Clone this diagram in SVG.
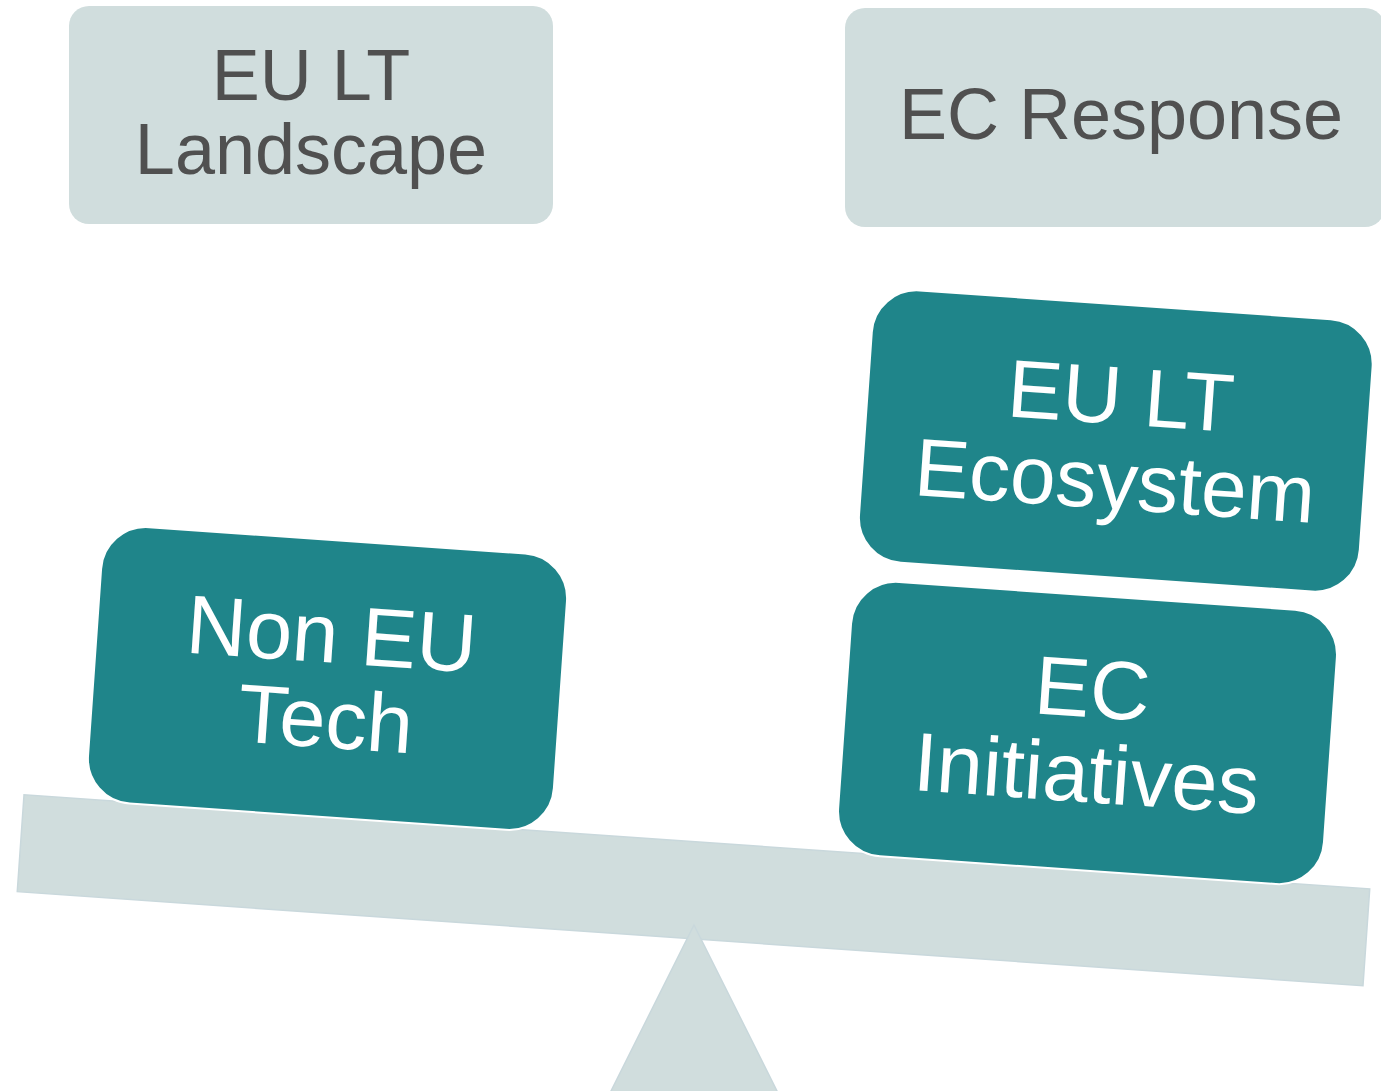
<svg xmlns="http://www.w3.org/2000/svg" width="1381" height="1091" viewBox="0 0 1381 1091">
<style>
.grey{fill:#d0dddd;}
.gtext{font-family:"Liberation Sans",Arial,sans-serif;fill:#505050;text-anchor:middle;}
.teal{fill:#1f858a;stroke:#ffffff;stroke-width:2;}
.ttext{font-family:"Liberation Sans",Arial,sans-serif;fill:#ffffff;text-anchor:middle;}
.scale{fill:#d0dddd;stroke:#c9d8dc;stroke-width:1.5;}
</style>
<rect width="1381" height="1091" fill="#ffffff"/>
<g id="beam">
<rect class="scale" x="-674.5" y="-48.5" width="1349" height="97" transform="translate(693.5,890.25) rotate(4)"/>
</g>
<g id="fulcrum">
<polygon class="scale" points="694,925 781,1099 607,1099"/>
</g>
<g id="eu-lt-landscape">
<rect class="grey" x="69" y="6" width="484" height="218" rx="20"/>
<text class="gtext" font-size="72"><tspan x="311" y="100">EU LT</tspan><tspan x="311" y="174">Landscape</tspan></text>
</g>
<g id="ec-response">
<rect class="grey" x="845" y="8" width="540" height="219" rx="20"/>
<text class="gtext" font-size="72" x="1121" y="139">EC Response</text>
</g>
<g id="non-eu-tech" transform="translate(327.5,678.5) rotate(4)">
<rect class="teal" x="-233.5" y="-138.5" width="467" height="277" rx="45"/>
<text class="ttext" font-size="83"><tspan x="1" y="-16">Non EU</tspan><tspan x="1" y="69">Tech</tspan></text>
</g>
<g id="eu-lt-ecosystem" transform="translate(1115.8,441) rotate(4)">
<rect class="teal" x="-251" y="-136.5" width="502" height="273" rx="45"/>
<text class="ttext" font-size="82"><tspan x="2" y="-17">EU LT</tspan><tspan x="2" y="68">Ecosystem</tspan></text>
</g>
<g id="ec-initiatives" transform="translate(1087.5,733) rotate(4)">
<rect class="teal" x="-243.5" y="-137.5" width="487" height="275" rx="45"/>
<text class="ttext" font-size="83"><tspan x="2" y="-16">EC</tspan><tspan x="2" y="69">Initiatives</tspan></text>
</g>
<g id="connectors"></g>
</svg>
